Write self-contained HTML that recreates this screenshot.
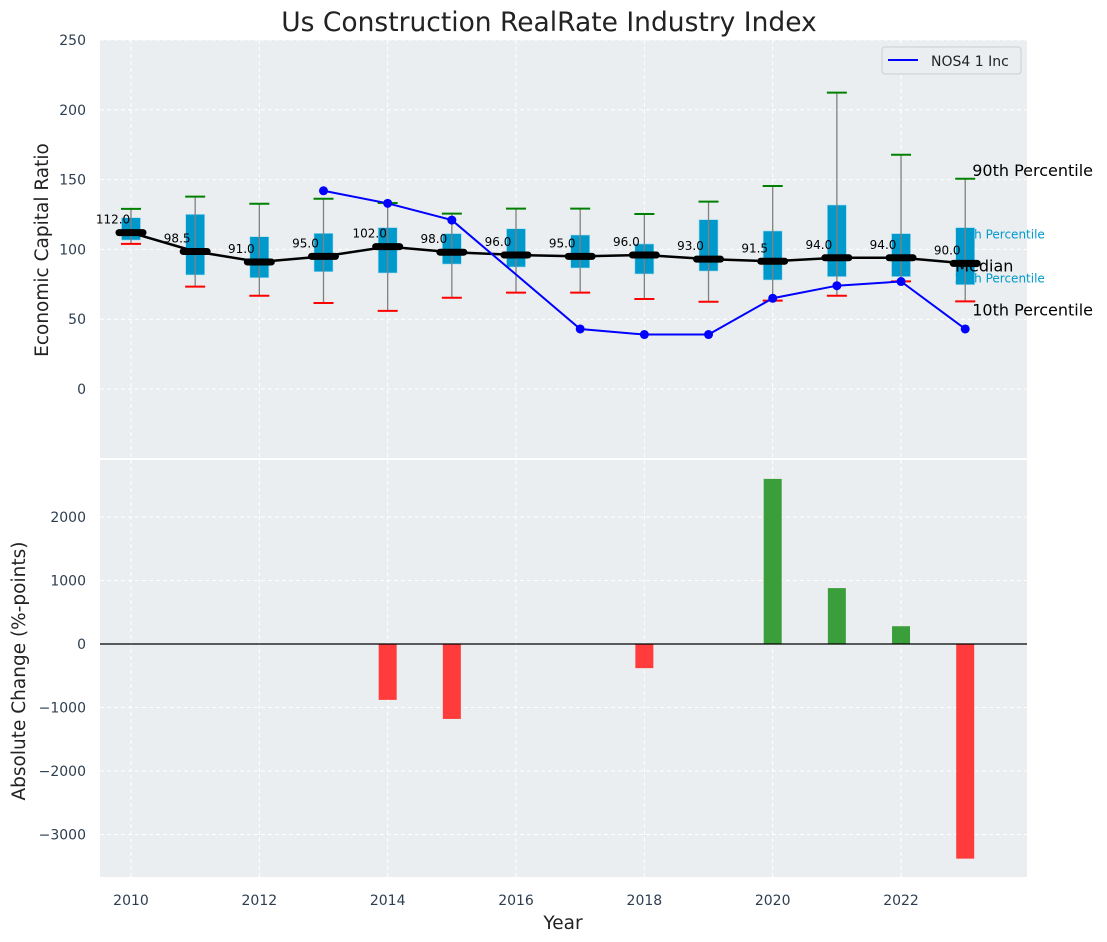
<!DOCTYPE html>
<html><head><meta charset="utf-8"><style>
body{margin:0;background:#fff;}
svg{display:block;font-family:"DejaVu Sans","Liberation Sans",sans-serif;}
.tick{font-size:14px;fill:#2d3e50;}
</style></head><body>
<svg id="c" width="1107" height="942"></svg>
<script>
const years=[2010,2011,2012,2013,2014,2015,2016,2017,2018,2019,2020,2021,2022,2023];
const medians=[112.0,98.5,91.0,95.0,102.0,98.0,96.0,95.0,96.0,93.0,91.5,94.0,94.0,90.0];
const q75=[122.7,125.1,109.1,111.5,115.6,111.3,114.8,110.3,103.9,121.3,113.2,131.8,111.3,115.6];
const q25=[106.7,81.7,79.7,84.0,83.1,89.5,87.4,86.7,82.4,84.5,78.1,80.5,80.5,74.7];
const p90=[129,137.8,132.7,136.3,133.2,125.6,129.2,129.2,125.4,134.2,145.4,212.3,167.8,150.6];
const p10=[104,73.3,66.8,61.6,56,65.4,69,69,64.5,62.5,63.3,66.8,77.1,62.8];
const nosYears=[2013,2014,2015,2017,2018,2019,2020,2021,2022,2023];
const nosVals=[142,133,121,43,39,39,65,74,77,43];
const changeYears=[2014,2015,2018,2020,2021,2022,2023];
const changeVals=[-880,-1180,-380,2600,880,280,-3380];
const topTicks=[0,50,100,150,200,250];
const botTicks=[-3000,-2000,-1000,0,1000,2000];
const xTicks=[2010,2012,2014,2016,2018,2020,2022];

const NS="http://www.w3.org/2000/svg";
const svg=document.getElementById('c');
function el(tag,attrs,parent){const e=document.createElementNS(NS,tag);for(const k in attrs)e.setAttribute(k,attrs[k]);(parent||svg).appendChild(e);return e;}
const fmt=v=>v<0?'\u2212'+Math.abs(v):String(v);
const X0=100,X1=1027;
const x=v=>X0+(v-2009.517)/(2023.963-2009.517)*(X1-X0);
const T0=40,T1=458;const yT=v=>389-v*1.396;
const B0=460,B1=877;const yB=v=>644-v*0.0635;

let e=el('rect',{x:X0,y:T0,width:X1-X0,height:T1-T0,fill:'#eaeef0'});

e=el('rect',{x:X0,y:B0,width:X1-X0,height:B1-B0,fill:'#eaeef0'});


xTicks.forEach(t=>{
 el('line',{x1:x(t),x2:x(t),y1:T0,y2:T1,stroke:'#fff','stroke-dasharray':'4,3','stroke-width':1});
 el('line',{x1:x(t),x2:x(t),y1:B0,y2:B1,stroke:'#fff','stroke-dasharray':'4,3','stroke-width':1});
 const tx=el('text',{x:x(t),y:905,'text-anchor':'middle',class:'tick'});tx.textContent=t;
 
});
topTicks.forEach(t=>{
 el('line',{x1:X0,x2:X1,y1:yT(t),y2:yT(t),stroke:'#fff','stroke-dasharray':'4,3'});
 const tx=el('text',{x:86,y:yT(t)+5,'text-anchor':'end',class:'tick'});tx.textContent=fmt(t);
 
});
botTicks.forEach(t=>{
 el('line',{x1:X0,x2:X1,y1:yB(t),y2:yB(t),stroke:'#fff','stroke-dasharray':'4,3'});
 const tx=el('text',{x:86,y:yB(t)+5,'text-anchor':'end',class:'tick'});tx.textContent=fmt(t);
 
});

function lab(t,xx,yy,fs,fill,name){const tx=el('text',{x:xx,y:yy,'font-size':fs,fill:fill});tx.textContent=t;}
const lx=x(2023)+7;
lab('75th Percentile',lx-18,yT(q75[13])+11,12,'#0099cc','q75-label');
lab('25th Percentile',lx-18,yT(q25[13])-2,12,'#0099cc','q25-label');

years.forEach((yr,i)=>{
 const cx=x(yr),bw=19;
 const b=el('rect',{x:cx-bw/2,y:yT(q75[i]),width:bw,height:yT(q25[i])-yT(q75[i]),fill:'#0099cc',stroke:'#a8dcf0','stroke-width':0.6});
 
 el('line',{x1:cx,x2:cx,y1:yT(p90[i]),y2:yT(p10[i]),stroke:'#808080','stroke-width':1.3});
 el('line',{x1:cx-10,x2:cx+10,y1:yT(p90[i]),y2:yT(p90[i]),stroke:'green','stroke-width':2});
 el('line',{x1:cx-10,x2:cx+10,y1:yT(p10[i]),y2:yT(p10[i]),stroke:'red','stroke-width':2});
});

let pts=years.map((yr,i)=>x(yr)+','+yT(medians[i])).join(' ');
e=el('polyline',{points:pts,fill:'none',stroke:'#000','stroke-width':2.5});

years.forEach((yr,i)=>{
 const m=el('line',{x1:x(yr)-12,x2:x(yr)+12,y1:yT(medians[i]),y2:yT(medians[i]),stroke:'#000','stroke-width':7,'stroke-linecap':'round'});
 
 const tx=el('text',{x:x(yr)-18,y:yT(medians[i])-9,'text-anchor':'middle','font-size':12,fill:'#000'});
 tx.textContent=medians[i].toFixed(1);
 
});

pts=nosYears.map((yr,i)=>x(yr)+','+yT(nosVals[i])).join(' ');
e=el('polyline',{points:pts,fill:'none',stroke:'#0000ff','stroke-width':2});

nosYears.forEach((yr,i)=>{
 const c=el('circle',{cx:x(yr),cy:yT(nosVals[i]),r:4.5,fill:'#0000ff'});
 
});

lab('90th Percentile',lx,yT(p90[13])-3,16,'#000','p90-label');
lab('10th Percentile',lx,yT(p10[13])+14,16,'#000','p10-label');
lab('Median',lx-17,yT(medians[13])+8,16,'#000','median-label');

const lg=el('g',{});
el('rect',{x:882,y:47,width:139,height:27,rx:3,fill:'#eaeef0',stroke:'#ccc'},lg);
el('line',{x1:888,x2:918,y1:60,y2:60,stroke:'#0000ff','stroke-width':2},lg);
const lt=el('text',{x:931,y:66,'font-size':14,fill:'#222'},lg);lt.textContent='NOS4 1 Inc';


changeYears.forEach((yr,i)=>{
 const v=changeVals[i],y0=yB(0),y1=yB(v);
 const r=el('rect',{x:x(yr)-9,y:Math.min(y0,y1),width:18,height:Math.abs(y1-y0),fill:v>=0?'#3a9e3a':'#ff3b3b'});
 
});
el('line',{x1:X0,x2:X1,y1:yB(0),y2:yB(0),stroke:'#000','stroke-width':1.2});

let t=el('text',{x:549,y:31,'text-anchor':'middle','font-size':26.5,fill:'#222'});t.textContent='Us Construction RealRate Industry Index';

t=el('text',{x:48,y:250,'text-anchor':'middle','font-size':18.5,fill:'#222',transform:'rotate(-90 48 250)'});t.textContent='Economic Capital Ratio';

t=el('text',{x:25,y:671,'text-anchor':'middle','font-size':18.5,fill:'#222',transform:'rotate(-90 25 671)'});t.textContent='Absolute Change (%-points)';

t=el('text',{x:563,y:929,'text-anchor':'middle','font-size':18.5,fill:'#222'});t.textContent='Year';

</script>
</body></html>
